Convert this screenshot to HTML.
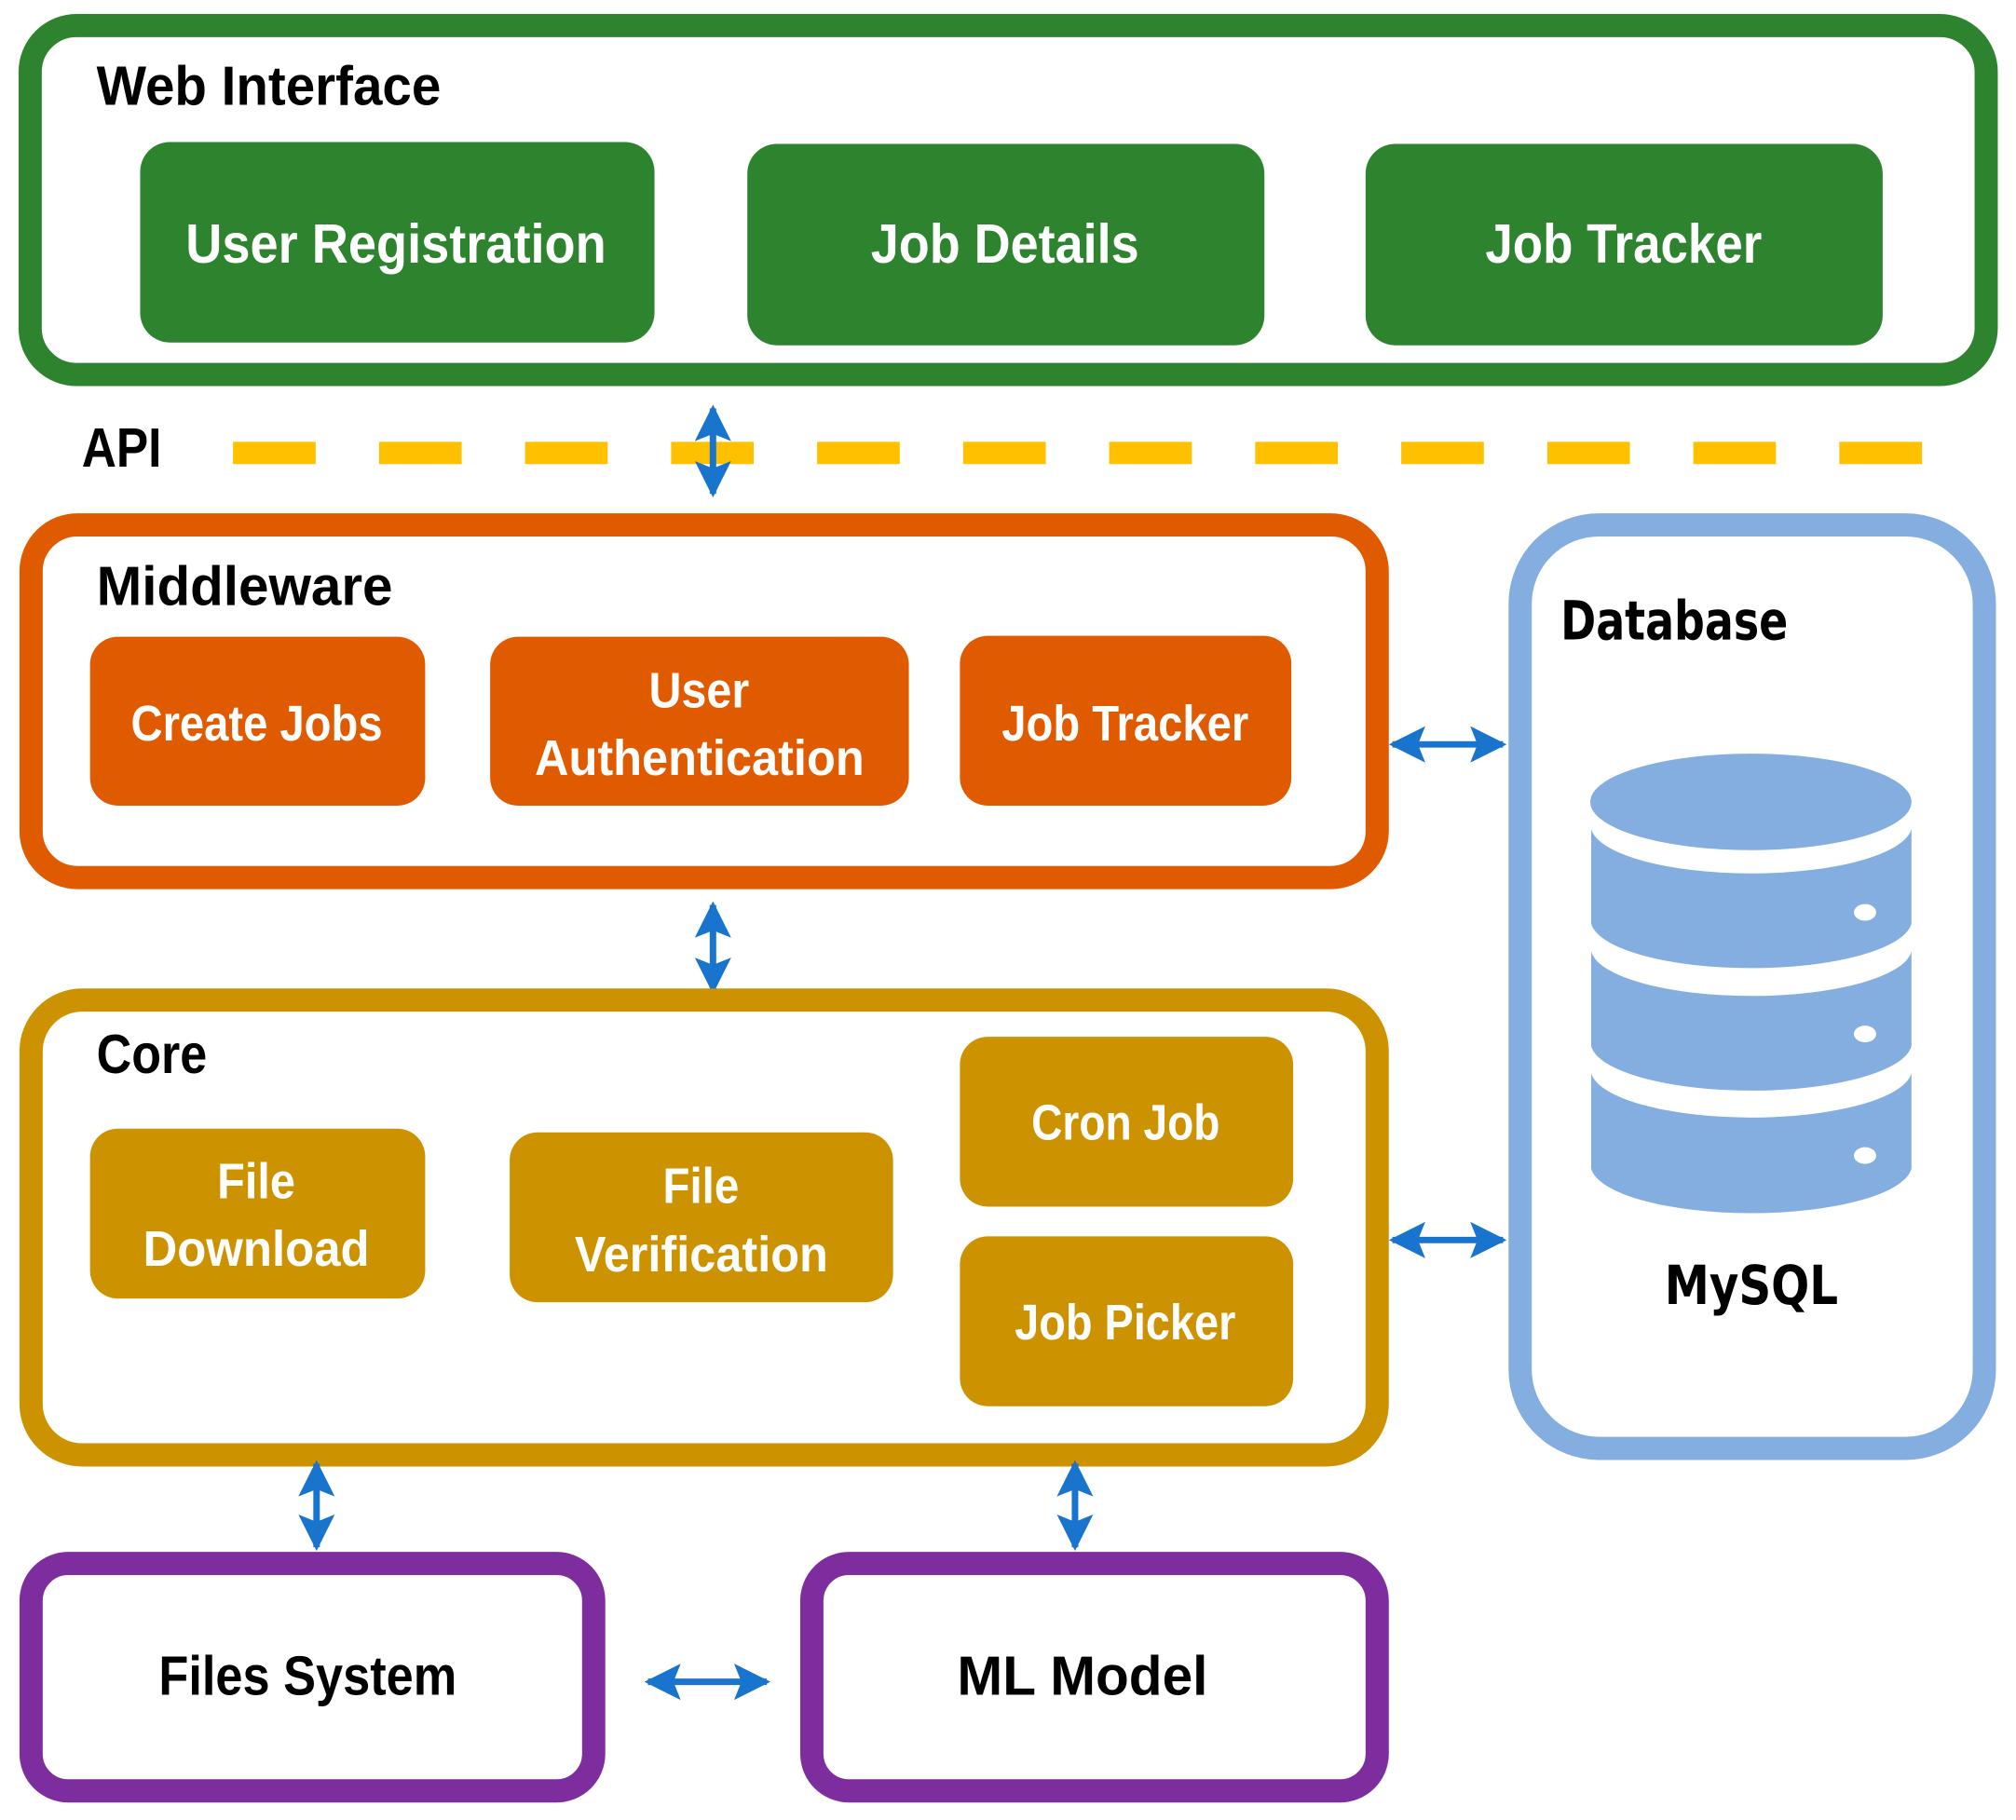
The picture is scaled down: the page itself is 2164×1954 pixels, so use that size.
<!DOCTYPE html>
<html><head><meta charset="utf-8"><style>
html,body{margin:0;padding:0;background:#fff;}
svg{display:block;}
text{font-family:"Liberation Sans Narrow","Liberation Sans",sans-serif;font-weight:bold;}
.w{fill:#fff;}
.k{fill:#000;}
</style></head><body>
<svg width="2164" height="1954" viewBox="0 0 2164 1954" xmlns="http://www.w3.org/2000/svg">
<defs>
<marker id="ah" viewBox="0 0 10 10" refX="9" refY="5" markerWidth="5.6" markerHeight="5.6" orient="auto-start-reverse" markerUnits="strokeWidth">
<path d="M0,0 L10,5 L0,10 L2,5 Z" fill="#1874CD"/>
</marker>
</defs>
<g transform="scale(0.9965)">
<!-- Web Interface -->
<rect x="32.5" y="27.5" width="2107" height="376" rx="50" fill="#fff" stroke="#2E832E" stroke-width="25"/>
<text x="104" y="113" font-size="60" class="k" textLength="371" lengthAdjust="spacingAndGlyphs">Web Interface</text>
<rect x="151" y="153" width="554" height="216" rx="32" fill="#2E832E"/>
<rect x="805" y="155" width="557" height="217" rx="32" fill="#2E832E"/>
<rect x="1471" y="155" width="557" height="217" rx="32" fill="#2E832E"/>
<text x="200" y="283" font-size="60" class="w" textLength="453" lengthAdjust="spacingAndGlyphs">User Registration</text>
<text x="938" y="283" font-size="60" class="w" textLength="289" lengthAdjust="spacingAndGlyphs">Job Details</text>
<text x="1600" y="283" font-size="60" class="w" textLength="298" lengthAdjust="spacingAndGlyphs">Job Tracker</text>

<!-- API -->
<text x="88" y="503" font-size="60" class="k" textLength="86" lengthAdjust="spacingAndGlyphs">API</text>
<line x1="251" y1="488" x2="2080" y2="488" stroke="#FFC000" stroke-width="24" stroke-dasharray="89 68.3"/>
<line x1="768" y1="440" x2="768" y2="532" stroke="#1874CD" stroke-width="7" marker-start="url(#ah)" marker-end="url(#ah)"/>

<!-- Middleware -->
<rect x="33.5" y="565.5" width="1450" height="380" rx="50" fill="#fff" stroke="#E05A00" stroke-width="25"/>
<text x="104" y="652" font-size="60" class="k" textLength="319" lengthAdjust="spacingAndGlyphs">Middleware</text>
<rect x="97" y="686" width="361" height="182" rx="30" fill="#E05A00"/>
<rect x="528" y="686" width="451" height="182" rx="30" fill="#E05A00"/>
<rect x="1034" y="685" width="357" height="183" rx="30" fill="#E05A00"/>
<text x="141" y="798" font-size="54" class="w" textLength="271" lengthAdjust="spacingAndGlyphs">Create Jobs</text>
<text x="699" y="762" font-size="54" class="w" textLength="108" lengthAdjust="spacingAndGlyphs">User</text>
<text x="576" y="835" font-size="54" class="w" textLength="355" lengthAdjust="spacingAndGlyphs">Authentication</text>
<text x="1079" y="798" font-size="54" class="w" textLength="266" lengthAdjust="spacingAndGlyphs">Job Tracker</text>

<line x1="768" y1="975" x2="768" y2="1067" stroke="#1874CD" stroke-width="7" marker-start="url(#ah)" marker-end="url(#ah)"/>

<!-- Core -->
<rect x="33.5" y="1077.5" width="1450" height="490" rx="55" fill="#fff" stroke="#CC9200" stroke-width="25"/>
<text x="104" y="1156" font-size="60" class="k" textLength="119" lengthAdjust="spacingAndGlyphs">Core</text>
<rect x="97" y="1216" width="361" height="183" rx="30" fill="#CC9200"/>
<rect x="549" y="1220" width="413" height="183" rx="30" fill="#CC9200"/>
<rect x="1034" y="1117" width="359" height="183" rx="30" fill="#CC9200"/>
<rect x="1034" y="1332" width="359" height="183" rx="30" fill="#CC9200"/>
<text x="234" y="1291" font-size="54" class="w" textLength="84" lengthAdjust="spacingAndGlyphs">File</text>
<text x="154" y="1364" font-size="54" class="w" textLength="244" lengthAdjust="spacingAndGlyphs">Download</text>
<text x="714" y="1296" font-size="54" class="w" textLength="82" lengthAdjust="spacingAndGlyphs">File</text>
<text x="619" y="1370" font-size="54" class="w" textLength="273" lengthAdjust="spacingAndGlyphs">Verification</text>
<text x="1111" y="1228" font-size="54" class="w" textLength="203" lengthAdjust="spacingAndGlyphs">Cron Job</text>
<text x="1093" y="1443" font-size="54" class="w" textLength="238" lengthAdjust="spacingAndGlyphs">Job Picker</text>

<!-- Database -->
<g transform="translate(5,0)">
<rect x="1632.5" y="565.5" width="500" height="995" rx="85" fill="#fff" stroke="#84ADE0" stroke-width="25"/>
<text x="1676" y="689" font-size="58" class="k" style="font-family:'DejaVu Sans','Liberation Sans',sans-serif" textLength="245" lengthAdjust="spacingAndGlyphs">Database</text>
<ellipse cx="1881" cy="864" rx="173" ry="52" fill="#84ADE0"/>
<path d="M1709,893 A173,52 0 0 0 2054,893 V995 A173,52 0 0 1 1709,995 Z" fill="#84ADE0"/>
<path d="M1709,1025 A173,52 0 0 0 2054,1025 V1127 A173,52 0 0 1 1709,1127 Z" fill="#84ADE0"/>
<path d="M1709,1156 A173,52 0 0 0 2054,1156 V1259 A173,52 0 0 1 1709,1259 Z" fill="#84ADE0"/>
<ellipse cx="2004" cy="983" rx="12" ry="9" fill="#fff"/>
<ellipse cx="2004" cy="1114" rx="12" ry="9" fill="#fff"/>
<ellipse cx="2004" cy="1245" rx="12" ry="9" fill="#fff"/>
<text x="1788" y="1405" font-size="58" class="k" style="font-family:'DejaVu Sans','Liberation Sans',sans-serif" textLength="187" lengthAdjust="spacingAndGlyphs">MySQL</text>
</g>

<line x1="1500" y1="802" x2="1619" y2="802" stroke="#1874CD" stroke-width="7" marker-start="url(#ah)" marker-end="url(#ah)"/>
<line x1="1500" y1="1336" x2="1619" y2="1336" stroke="#1874CD" stroke-width="7" marker-start="url(#ah)" marker-end="url(#ah)"/>

<!-- Bottom -->
<line x1="341" y1="1577" x2="341" y2="1667" stroke="#1874CD" stroke-width="7" marker-start="url(#ah)" marker-end="url(#ah)"/>
<line x1="1158" y1="1577" x2="1158" y2="1667" stroke="#1874CD" stroke-width="7" marker-start="url(#ah)" marker-end="url(#ah)"/>
<rect x="33.5" y="1684.5" width="606" height="245" rx="40" fill="#fff" stroke="#7E2D9E" stroke-width="25"/>
<rect x="874.5" y="1684.5" width="609" height="245" rx="40" fill="#fff" stroke="#7E2D9E" stroke-width="25"/>
<text x="171" y="1826" font-size="60" class="k" textLength="321" lengthAdjust="spacingAndGlyphs">Files System</text>
<text x="1031" y="1826" font-size="60" class="k" textLength="270" lengthAdjust="spacingAndGlyphs">ML Model</text>
<line x1="698" y1="1812" x2="826" y2="1812" stroke="#1874CD" stroke-width="7" marker-start="url(#ah)" marker-end="url(#ah)"/>
</g>
</svg>
</body></html>
